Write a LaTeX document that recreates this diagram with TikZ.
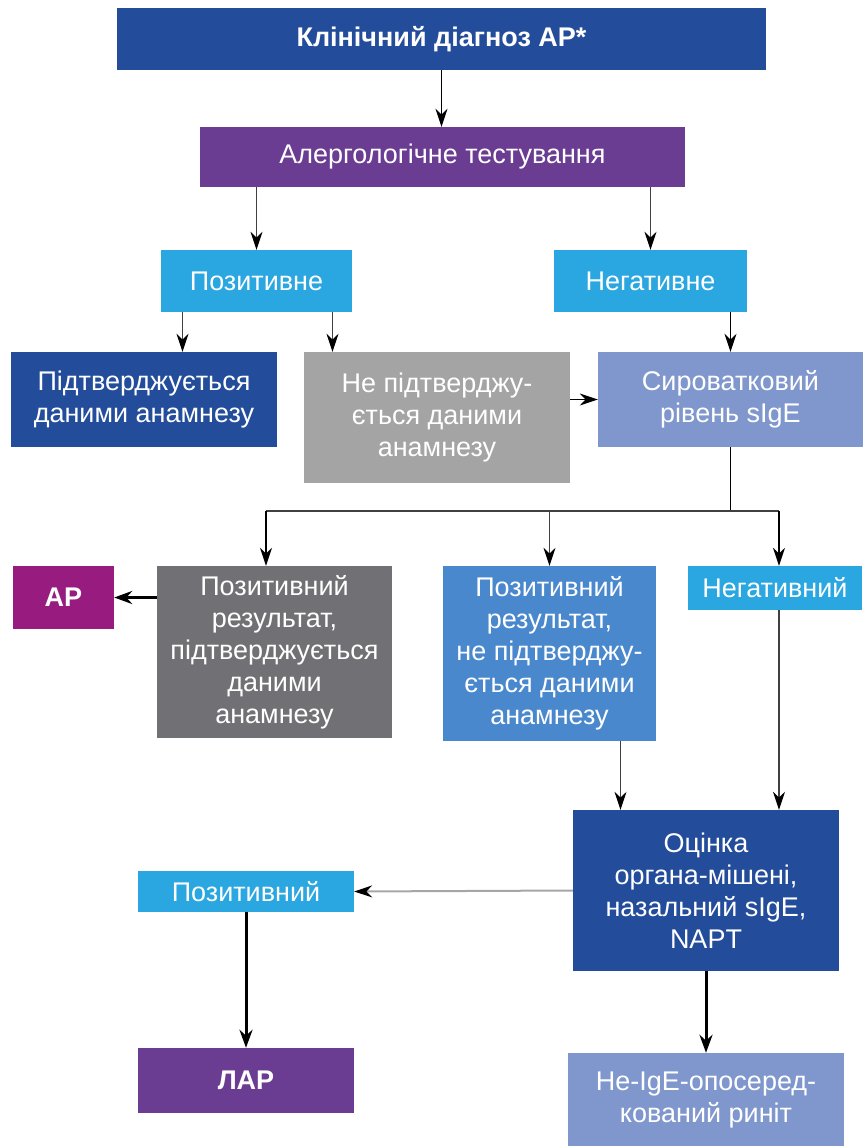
\documentclass[tikz,border=0pt]{standalone}
\usepackage{fontspec}
\setmainfont{Liberation Sans}
\usetikzlibrary{arrows.meta}

\definecolor{navy}{HTML}{234C9B}
\definecolor{violet}{HTML}{6A3C92}
\definecolor{sky}{HTML}{2AA6E0}
\definecolor{slate}{HTML}{7F97CD}
\definecolor{stone}{HTML}{A4A4A4}
\definecolor{ash}{HTML}{717175}
\definecolor{steel}{HTML}{4A88CD}
\definecolor{plum}{HTML}{981C7F}

\begin{document}
\begin{tikzpicture}[x=1pt, y=-1pt]

  \tikzstyle{box} = [rectangle, inner sep=0pt, align=center, text=white, font=\fontsize{27}{32}\selectfont]
  \tikzstyle{arrow} = [line width=1.5pt, -{Stealth[length=18pt, width=12pt, color=black]}]
  \tikzstyle{bold arrow} = [line width=3pt, -{Stealth[length=18pt, width=13pt]}]

  \useasboundingbox (0,0) rectangle (863,1146);

  \node (diag)    [box, fill=navy, minimum width=649pt, minimum height=62pt, font=\fontsize{27}{32}\selectfont\bfseries] at (441.5,39) {Клінічний діагноз АР*};
  \node (test)    [box, fill=violet, minimum width=485pt, minimum height=60pt] at (442.5,157) {Алергологічне тестування};
  \node (pos)     [box, fill=sky, minimum width=191pt, minimum height=62pt] at (256.5,281) {Позитивне};
  \node (neg)     [box, fill=sky, minimum width=193pt, minimum height=62pt] at (650.5,281) {Негативне};

  \node (conf)    [box, fill=navy, minimum width=266pt, minimum height=95pt] at (144,399.5) {Підтверджується\\даними анамнезу};
  \node (notconf) [box, fill=stone, minimum width=266pt, minimum height=131pt] at (437,417.5) {Не підтверджу-\\ється даними\\анамнезу};
  \node (serum)   [box, fill=slate, minimum width=265pt, minimum height=95pt] at (730.5,399.5) {Сироватковий\\рівень sIgE};

  \node (ar)      [box, fill=plum, minimum width=101pt, minimum height=63pt, font=\fontsize{27}{32}\selectfont\bfseries] at (63.5,597.5) {АР};
  \node (posconf) [box, fill=ash, minimum width=235pt, minimum height=172pt] at (274.5,652) {Позитивний\\результат,\\підтверджується\\даними\\анамнезу};
  \node (posnot)  [box, fill=steel, minimum width=213pt, minimum height=175pt] at (549.5,653.5) {Позитивний\\результат,\\не підтверджу-\\ється даними\\анамнезу};
  \node (negres)  [box, fill=sky, minimum width=174pt, minimum height=44pt] at (775,588) {Негативний};

  \node (organ)   [box, fill=navy, minimum width=266pt, minimum height=161pt] at (706,890.5) {Оцінка\\органа-мішені,\\назальний sIgE,\\NAPT};
  \node (pos2)    [box, fill=sky, minimum width=216pt, minimum height=41pt] at (246,891.5) {Позитивний};
  \node (lar)     [box, fill=violet, minimum width=216pt, minimum height=65pt, font=\fontsize{27}{32}\selectfont\bfseries] at (246,1080.5) {ЛАР};
  \node (nonige)  [box, fill=slate, minimum width=276pt, minimum height=93pt] at (706,1099.5) {Не-IgE-опосеред-\\кований риніт};

  \coordinate (bl) at (266,511);
  \coordinate (br) at (779,511);

  \draw [arrow] (diag.south) -- (diag.south |- test.north);
  \draw [arrow, draw=black!75] (pos.north |- test.south) -- (pos.north);
  \draw [arrow, draw=black!75] (neg.north |- test.south) -- (neg.north);
  \draw [arrow, draw=black!75] ([xshift=-74pt]pos.south) -- ([xshift=-74pt]pos.south |- conf.north);
  \draw [arrow, draw=black!75] ([xshift=76pt]pos.south) -- ([xshift=76pt]pos.south |- notconf.north);
  \draw [arrow] (serum.north |- neg.south) -- (serum.north);
  \draw [arrow] (notconf.east |- serum.west) -- (serum.west);

  \draw [line width=1.5pt] (serum.south) -- (serum.south |- bl);
  \draw [line width=1.5pt, draw=black!75] (bl) -- (br);
  \draw [arrow] (bl) -- (bl |- posconf.north);
  \draw [arrow, draw=black!75] (posnot.north |- bl) -- (posnot.north);
  \draw [arrow] (br) -- (br |- negres.north);
  \draw [bold arrow] (posconf.west |- ar.east) -- (ar.east);

  \draw [arrow, draw=black!75] ([xshift=71pt]posnot.south) -- ([xshift=71pt]posnot.south |- organ.north);
  \draw [arrow, draw=black!75] (br |- negres.south) -- (br |- organ.north);
  \draw [arrow, line width=2pt, draw=black!35] (organ.west) -- (pos2.east);
  \draw [bold arrow] (pos2) -- (lar);
  \draw [bold arrow] (organ) -- (nonige);

\end{tikzpicture}
\end{document}
